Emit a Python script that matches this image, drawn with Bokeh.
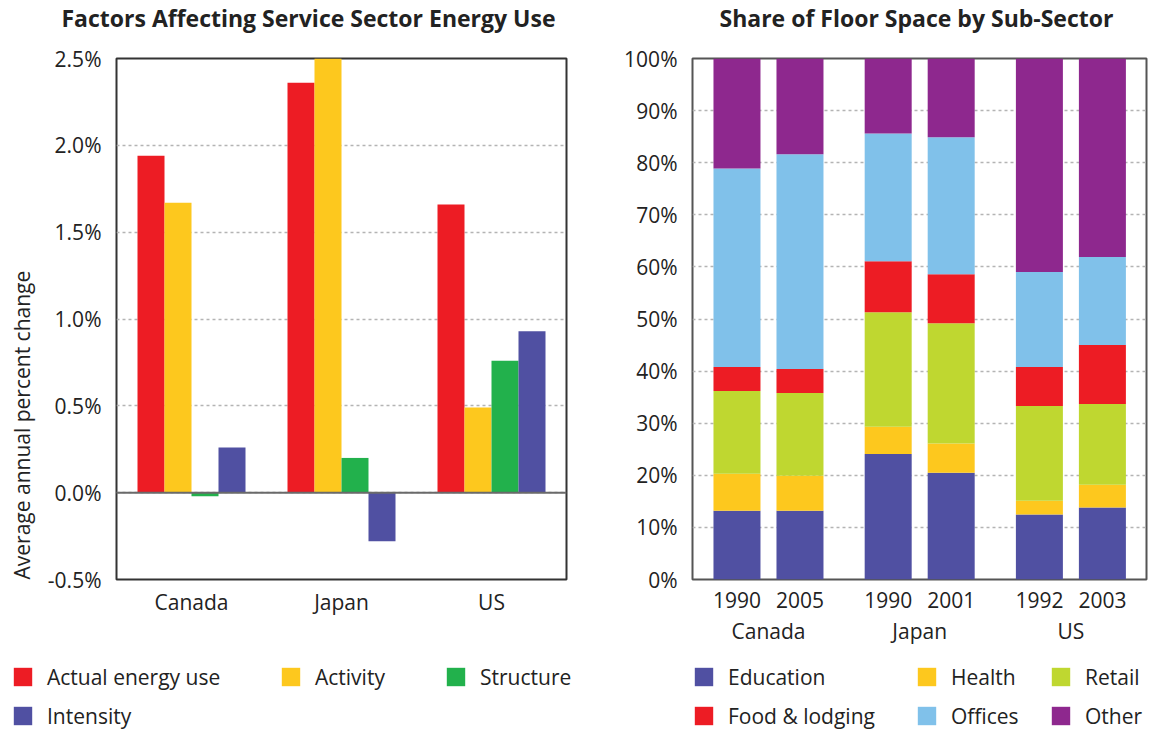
import numpy as np
from bokeh.plotting import figure
from bokeh.layouts import row, column
from bokeh.models import (ColumnDataSource, Range1d, FixedTicker, LinearAxis, Legend,
                          LegendItem, Span, Title, PrintfTickFormatter)
from bokeh.embed import file_html
from bokeh.resources import INLINE

FONT = "Open Sans"
TXT = "#222222"

# ---------------- data: left chart ----------------
countries = ["Canada", "Japan", "US"]
factor_names = ["Actual energy use", "Activity", "Structure", "Intensity"]
actual = [1.94, 2.36, 1.66]
activity = [1.67, 2.50, 0.49]
structure = [-0.02, 0.20, 0.76]
intensity = [0.26, -0.28, 0.93]
factor_colors = ["#ED1C24", "#FDC81E", "#22B14C", "#5050A2"]
left_ticks = [-0.5, 0.0, 0.5, 1.0, 1.5, 2.0, 2.5]

# ---------------- data: right chart ----------------
years = ["1990", "2005", "1990", "2001", "1992", "2003"]
year_group = [0, 0, 1, 1, 2, 2]
year_slot = [0, 1, 0, 1, 0, 1]
sectors = ["Education", "Health", "Retail", "Food & lodging", "Offices", "Other"]
education = [13.2, 13.2, 24.1, 20.5, 12.5, 13.8]
health = [7.1, 6.7, 5.2, 5.6, 2.6, 4.4]
retail = [15.9, 15.9, 22.0, 23.1, 18.2, 15.5]
food = [4.6, 4.6, 9.8, 9.4, 7.5, 11.3]
offices = [38.1, 41.2, 24.5, 26.3, 18.2, 16.9]
other = [21.1, 18.4, 14.4, 15.1, 41.0, 38.1]
sector_colors = ["#5050A2", "#FDC81E", "#BFD730", "#ED1C24", "#80C1EA", "#8E288E"]
right_ticks = [0, 10, 20, 30, 40, 50, 60, 70, 80, 90, 100]

TITLE_H = 44
MAIN_H = 606
LEG_H = 82
FRAME_TOP = 58 - TITLE_H
FRAME_BOTTOM = 579 - TITLE_H


def style_axis(ax, size="21px"):
    ax.axis_line_color = None
    ax.major_tick_line_color = None
    ax.minor_tick_line_color = None
    ax.major_tick_out = 0
    ax.major_tick_in = 0
    ax.minor_tick_out = 0
    ax.minor_tick_in = 0
    ax.major_label_text_font = FONT
    ax.major_label_text_font_size = size
    ax.major_label_text_color = TXT


def blank_fig(width, height):
    f = figure(width=width, height=height, x_range=Range1d(0, 1), y_range=Range1d(0, 1),
               output_backend="svg", toolbar_location=None, min_border=0,
               x_axis_type=None, y_axis_type=None)
    f.outline_line_color = None
    f.grid.visible = False
    f.background_fill_color = "white"
    f.border_fill_color = "white"
    return f


def title_fig(width, text, x):
    f = blank_fig(width, TITLE_H)
    f.title = Title(text=text, align="left", offset=x, standoff=-2,
                    text_font=FONT, text_font_size="23px", text_font_style="bold",
                    text_color=TXT)
    return f


def add_legend(f, labels, colors, x, y, standoff=13):
    items = []
    for lab, col in zip(labels, colors):
        # legend proxy: zero-height bar, invisible on the page
        r = f.vbar(x=[0.5], top=[0], bottom=[0], width=0.01, fill_color=col, line_color=None)
        items.append(LegendItem(label=lab, renderers=[r]))
    lg = Legend(items=items, location=(x, y), orientation="vertical",
                glyph_width=23, glyph_height=23, label_standoff=standoff,
                spacing=11, padding=0, margin=0, label_height=23,
                border_line_color=None, background_fill_alpha=0,
                label_text_font=FONT, label_text_font_size="21px",
                label_text_color=TXT)
    f.add_layout(lg)


# ================= left figure =================
p1 = figure(width=608, height=MAIN_H, x_range=Range1d(-0.5, 2.5), y_range=Range1d(-0.5, 2.5),
            output_backend="svg", toolbar_location=None,
            min_border_left=112, min_border_right=42, min_border_top=FRAME_TOP,
            min_border_bottom=MAIN_H - FRAME_BOTTOM)
p1.outline_line_color = "#333333"
p1.outline_line_width = 2
p1.background_fill_color = "white"
p1.border_fill_color = "white"

bw = 0.18
renderers1 = []
for j, (vals, col) in enumerate(zip([actual, activity, structure, intensity], factor_colors)):
    xs = np.arange(len(countries)) + (j - 1.5) * bw
    r = p1.vbar(x=xs, top=vals, bottom=0, width=bw, fill_color=col, line_color=None)
    renderers1.append(r)

p1.add_layout(Span(location=0, dimension="width", line_color="#6a6a6a", line_width=2))

p1.xgrid.visible = False
p1.yaxis.ticker = FixedTicker(ticks=left_ticks)
p1.ygrid.grid_line_color = "#b4b4b4"
p1.ygrid.grid_line_dash = "3 3"
p1.ygrid.grid_line_width = 1.5
p1.yaxis.formatter = PrintfTickFormatter(format="%.1f%%")
p1.xaxis.ticker = FixedTicker(ticks=[0, 1, 2])
p1.xaxis.major_label_overrides = {i: c for i, c in enumerate(countries)}
style_axis(p1.xaxis[0])
style_axis(p1.yaxis[0])
p1.yaxis.major_label_standoff = 15
p1.xaxis.major_label_standoff = 8

# y-axis title, starting at the bottom of the frame and reading upwards
p1.add_layout(Title(text="Average annual percent change", align="left", vertical_align="top",
                    offset=0, standoff=14, text_font=FONT, text_font_size="21px",
                    text_font_style="normal", text_color=TXT), "left")

# ================= right figure =================
xpos = [round(g * 2.4 + k, 6) for g, k in zip(year_group, year_slot)]
group_centers = [round(g * 2.4 + 0.5, 6) for g in range(len(countries))]

p2 = figure(width=544, height=MAIN_H, x_range=Range1d(-0.706, 6.5), y_range=Range1d(0, 100),
            output_backend="svg", toolbar_location=None,
            min_border_left=84, min_border_right=6, min_border_top=FRAME_TOP,
            min_border_bottom=MAIN_H - FRAME_BOTTOM)
p2.outline_line_color = "#555555"
p2.outline_line_width = 2
p2.background_fill_color = "white"
p2.border_fill_color = "white"

src2 = ColumnDataSource(dict(x=xpos, Education=education, Health=health, Retail=retail,
                             Food=food, Offices=offices, Other=other))
stack_keys = ["Education", "Health", "Retail", "Food", "Offices", "Other"]
p2.vbar_stack(stack_keys, x="x", width=0.746, source=src2,
              fill_color=sector_colors, line_color=None)

p2.xgrid.visible = False
p2.yaxis.ticker = FixedTicker(ticks=right_ticks)
p2.ygrid.grid_line_color = "#b4b4b4"
p2.ygrid.grid_line_dash = "3 3"
p2.ygrid.grid_line_width = 1.5
p2.yaxis.formatter = PrintfTickFormatter(format="%d%%")
p2.xaxis.ticker = FixedTicker(ticks=xpos)
p2.xaxis.major_label_overrides = {x: y for x, y in zip(xpos, years)}
style_axis(p2.xaxis[0])
style_axis(p2.yaxis[0])
p2.yaxis.major_label_standoff = 15
p2.xaxis.major_label_standoff = 12

ax_c = LinearAxis(ticker=FixedTicker(ticks=group_centers),
                  major_label_overrides={x: c for x, c in zip(group_centers, countries)})
style_axis(ax_c)
ax_c.major_label_standoff = 6
p2.add_layout(ax_c, "below")

# ================= titles =================
t1 = title_fig(608, "Factors Affecting Service Sector Energy Use", 61)
t2 = title_fig(544, "Share of Floor Space by Sub-Sector", 719 - 608)

# ================= legends =================
l1 = blank_fig(608, LEG_H)
add_legend(l1, [factor_names[0], factor_names[3]], [factor_colors[0], factor_colors[3]], 11, 2.5)
add_legend(l1, [factor_names[1]], [factor_colors[1]], 279, 41.5)
add_legend(l1, [factor_names[2]], [factor_colors[2]], 444, 41.5)

l2 = blank_fig(544, LEG_H)
add_legend(l2, [sectors[0], sectors[3]], [sector_colors[0], sector_colors[3]], 692 - 608, 2.5)
add_legend(l2, [sectors[1], sectors[4]], [sector_colors[1], sector_colors[4]], 915 - 608, 2.5)
add_legend(l2, [sectors[2], sectors[5]], [sector_colors[2], sector_colors[5]], 1049 - 608, 2.5)

layout = column(row(t1, t2), row(p1, p2), row(l1, l2))
open("out.html", "w").write(file_html(layout, INLINE))
